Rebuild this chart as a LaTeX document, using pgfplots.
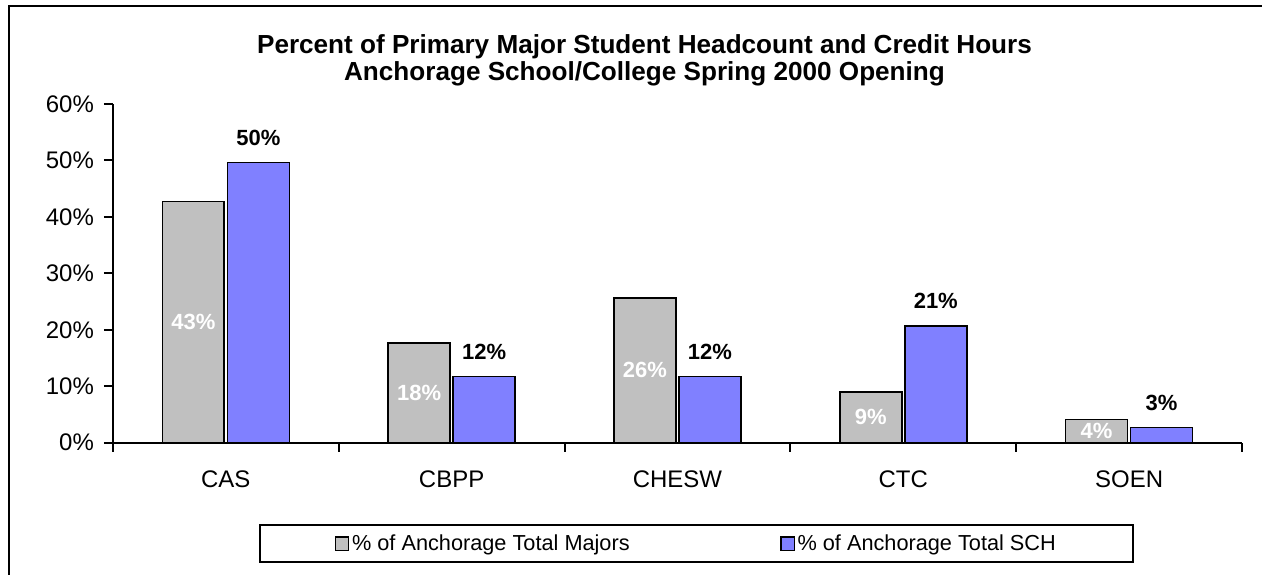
\documentclass[border=0pt]{standalone}
\usepackage{pgfplots}
\pgfplotsset{compat=1.18}
\usepackage{fontspec}
\setmainfont{Liberation Sans}

\definecolor{majgray}{RGB}{192,192,192}
\definecolor{schblue}{RGB}{128,128,255}

\begin{document}
\begin{tikzpicture}
% page size 1263x575 px at 0.75pt/px
\path[fill=white] (0,0) rectangle (947.25pt,431.25pt);
\draw[line width=1.5pt] (6.75pt,0) -- (6.75pt,426.75pt) -- (947.25pt,426.75pt);

\node[align=center, font=\bfseries\fontsize{19.6}{20.5}\selectfont] at (483.75pt,386pt)
  {Percent of Primary Major Student Headcount and Credit Hours\\
   Anchorage School/College Spring 2000 Opening};

\begin{axis}[
    % origin is the CAS centre, half a category right of the y axis
    at={(169.5pt,99pt)}, anchor=origin,
    scale only axis, width=847.5pt, height=254.25pt,
    xmin=-0.5, xmax=4.5, ymin=0, ymax=60,
    axis x line=bottom, axis y line=left,
    axis line style={-, line width=1.5pt},
    every tick/.style={black, line width=1.5pt},
    major tick length=6.75pt,
    tick align=outside,
    xtick={-0.5,0.5,...,4.5}, xticklabels={},
    extra x ticks={0,1,2,3,4},
    extra x tick labels={CAS,CBPP,CHESW,CTC,SOEN},
    extra x tick style={major tick length=0pt,
        xticklabel style={yshift=-17.5pt}},
    ytick={0,10,...,60},
    yticklabel={\pgfmathprintnumber{\tick}\%},
    /pgf/number format/assume math mode=true,
    ticklabel style={font=\fontsize{18}{21}\selectfont},
    yticklabel style={xshift=-4pt},
    ybar, bar width=46.5pt,
    clip=false,
    legend columns=2,
    legend style={at={(0.517,-0.298)}, anchor=center,
        draw=black, line width=1.5pt,
        font=\fontsize{16.3}{19}\selectfont,
        inner xsep=56pt, inner ysep=5.5pt,
        /tikz/every even column/.append style={column sep=111pt}},
    legend image code/.code={\draw[#1, draw=black, line width=1pt] (0pt,-5pt) rectangle (10pt,5pt);},
]
\addplot[fill=majgray, draw=black, line width=1.2pt, bar shift=-24.4pt,
    visualization depends on={rawy \as \rawy},
    nodes near coords={\pgfmathprintnumber[fixed,precision=0]{\pgfplotspointmeta}\%},
    every node near coord/.append style={anchor=center, text=white,
        font=\bfseries\fontsize{16.5}{19}\selectfont,
        yshift=-\rawy*2.11875pt}]
  coordinates {(0,42.7) (1,17.7) (2,25.6) (3,9.0) (4,4.1)};
\addlegendentry{\% of Anchorage Total Majors}
\addplot[fill=schblue, draw=black, line width=1.2pt, bar shift=24.4pt,
    nodes near coords={\pgfmathprintnumber[fixed,precision=0]{\pgfplotspointmeta}\%},
    every node near coord/.append style={anchor=south, inner sep=0pt, text=black,
        font=\bfseries\fontsize{16.5}{19}\selectfont, yshift=12pt}]
  coordinates {(0,49.6) (1,11.7) (2,11.7) (3,20.7) (4,2.7)};
\addlegendentry{\% of Anchorage Total SCH}
\end{axis}
\end{tikzpicture}
\end{document}
